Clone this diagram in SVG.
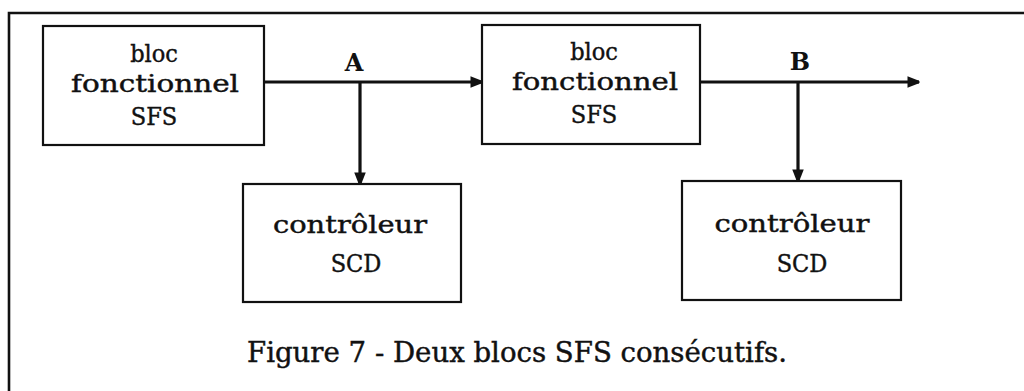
<svg xmlns="http://www.w3.org/2000/svg" width="1024" height="391" viewBox="0 0 1024 391">
<style>
.box{fill:#fff;stroke:#111;stroke-width:2.2}
.t{font-family:"DejaVu Serif Condensed","DejaVu Serif","Liberation Serif",serif;font-stretch:condensed;font-size:25px;fill:#111;text-anchor:middle;stroke:#111;stroke-width:0.4}
.lbl{font-family:"DejaVu Serif","Liberation Serif",serif;font-size:24px;font-weight:bold;fill:#111;text-anchor:middle}
.cap{font-family:"DejaVu Serif Condensed","DejaVu Serif","Liberation Serif",serif;font-stretch:condensed;font-size:27px;fill:#111;stroke:#111;stroke-width:0.4}
.ln{stroke:#111;stroke-width:3.2;fill:none}
</style>
<defs>
<marker id="ah" viewBox="0 0 10 10" refX="9" refY="5" markerWidth="4" markerHeight="4" orient="auto" markerUnits="strokeWidth">
<path d="M0,0.5 L9,4 Q10,5 9,6 L0,9.5 Z" fill="#111"/>
</marker>
</defs>
<rect width="1024" height="391" fill="#fff"/>
<path d="M9,391 L9,13 L1024,13" fill="none" stroke="#111" stroke-width="2.6"/>
<g id="connectors">
<line class="ln" x1="264" y1="82" x2="482" y2="82" marker-end="url(#ah)"/>
<line class="ln" x1="360" y1="82" x2="360" y2="184" marker-end="url(#ah)"/>
<line class="ln" x1="700" y1="82" x2="919" y2="82" marker-end="url(#ah)"/>
<line class="ln" x1="798" y1="82" x2="798" y2="181" marker-end="url(#ah)"/>
<text class="lbl" x="354" y="71">A</text>
<text class="lbl" x="800" y="70">B</text>
</g>
<g id="sfs1">
<rect class="box" x="43" y="26" width="221" height="119"/>
<text class="t" x="154" y="62">bloc</text>
<text class="t" x="155" y="92" textLength="168" lengthAdjust="spacingAndGlyphs">fonctionnel</text>
<text class="t" x="154" y="125">SFS</text>
</g>
<g id="sfs2">
<rect class="box" x="482" y="25" width="218" height="119"/>
<text class="t" x="594" y="60">bloc</text>
<text class="t" x="595" y="90" textLength="166" lengthAdjust="spacingAndGlyphs">fonctionnel</text>
<text class="t" x="594" y="123">SFS</text>
</g>
<g id="scd1">
<rect class="box" x="243" y="184" width="218" height="118"/>
<text class="t" x="350" y="233" textLength="154" lengthAdjust="spacingAndGlyphs">contrôleur</text>
<text class="t" x="356" y="272">SCD</text>
</g>
<g id="scd2">
<rect class="box" x="682" y="181" width="219" height="119"/>
<text class="t" x="792" y="232" textLength="155" lengthAdjust="spacingAndGlyphs">contrôleur</text>
<text class="t" x="802" y="272">SCD</text>
</g>
<text class="cap" x="247" y="362" textLength="540" lengthAdjust="spacingAndGlyphs">Figure 7 - Deux blocs SFS consécutifs.</text>
</svg>
